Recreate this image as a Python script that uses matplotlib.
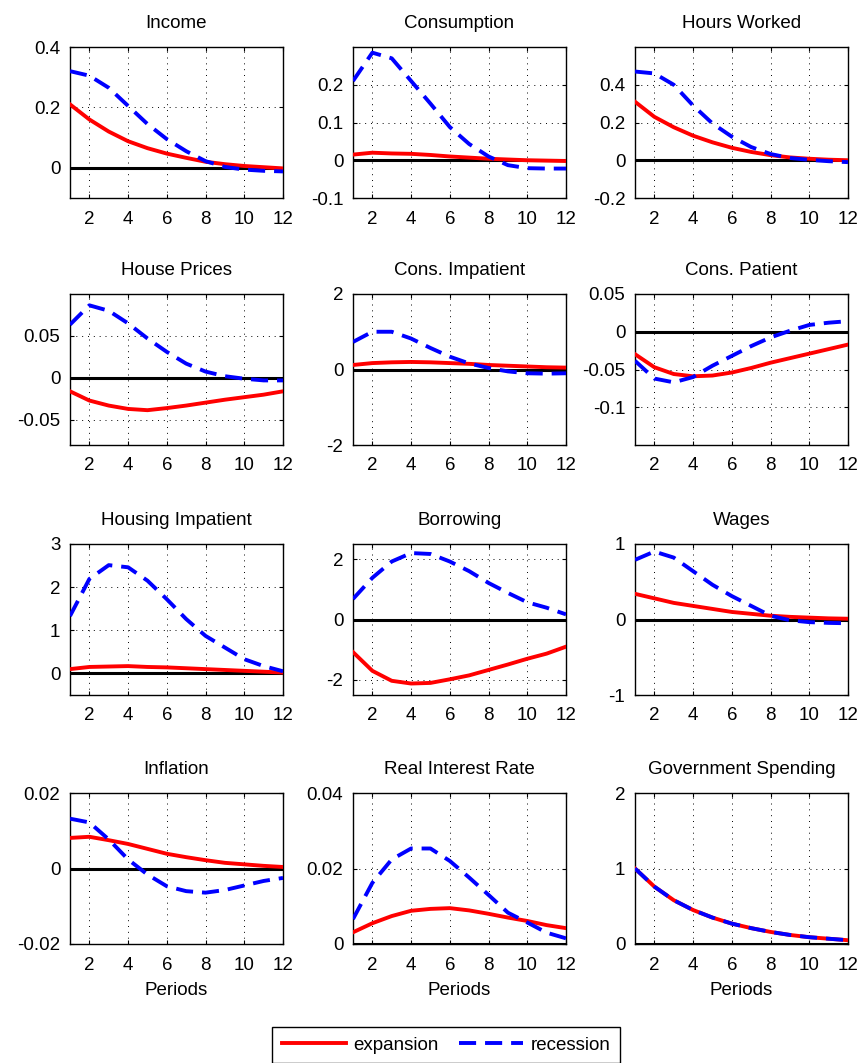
import matplotlib
matplotlib.use("Agg")
import matplotlib.pyplot as plt

plt.rcParams['font.family'] = ['Liberation Sans', 'DejaVu Sans']

periods = list(range(1, 13))

titles = ["Income", "Consumption", "Hours Worked",
          "House Prices", "Cons. Impatient", "Cons. Patient",
          "Housing Impatient", "Borrowing", "Wages",
          "Inflation", "Real Interest Rate", "Government Spending"]

# expansion / recession impulse responses
income_exp = [0.21, 0.16, 0.12, 0.088, 0.065, 0.047, 0.033, 0.02, 0.012, 0.006, 0.002, -0.002]
income_rec = [0.32, 0.305, 0.265, 0.205, 0.145, 0.095, 0.055, 0.022, 0.003, -0.006, -0.01, -0.012]
cons_exp = [0.015, 0.02, 0.018, 0.017, 0.014, 0.01, 0.007, 0.004, 0.002, 0.0, -0.001, -0.002]
cons_rec = [0.21, 0.285, 0.27, 0.21, 0.15, 0.088, 0.043, 0.01, -0.013, -0.021, -0.022, -0.022]
hours_exp = [0.31, 0.23, 0.175, 0.13, 0.095, 0.066, 0.044, 0.027, 0.015, 0.008, 0.003, 0.0]
hours_rec = [0.47, 0.46, 0.4, 0.29, 0.195, 0.125, 0.07, 0.033, 0.012, 0.002, -0.005, -0.01]
hp_exp = [-0.016, -0.027, -0.033, -0.037, -0.0385, -0.036, -0.033, -0.0295, -0.026, -0.023, -0.02, -0.016]
hp_rec = [0.0635, 0.0865, 0.08, 0.065, 0.047, 0.031, 0.017, 0.0075, 0.002, -0.001, -0.003, -0.003]
ci_exp = [0.12, 0.17, 0.19, 0.2, 0.19, 0.17, 0.15, 0.12, 0.1, 0.08, 0.06, 0.05]
ci_rec = [0.73, 1.0, 1.0, 0.82, 0.57, 0.34, 0.16, 0.04, -0.05, -0.1, -0.11, -0.1]
cp_exp = [-0.0297, -0.047, -0.056, -0.059, -0.058, -0.054, -0.048, -0.041, -0.035, -0.029, -0.023, -0.017]
cp_rec = [-0.0385, -0.062, -0.067, -0.06, -0.045, -0.032, -0.019, -0.0075, 0.0013, 0.009, 0.012, 0.014]
hi_exp = [0.1, 0.15, 0.16, 0.17, 0.15, 0.14, 0.12, 0.1, 0.08, 0.06, 0.04, 0.02]
hi_rec = [1.33, 2.19, 2.51, 2.46, 2.15, 1.72, 1.26, 0.87, 0.6, 0.33, 0.17, 0.05]
bor_exp = [-1.08, -1.7, -2.03, -2.12, -2.1, -1.98, -1.85, -1.67, -1.49, -1.3, -1.13, -0.9]
bor_rec = [0.68, 1.38, 1.92, 2.2, 2.17, 1.92, 1.6, 1.21, 0.88, 0.57, 0.39, 0.17]
wage_exp = [0.34, 0.28, 0.22, 0.18, 0.14, 0.1, 0.075, 0.05, 0.035, 0.025, 0.015, 0.01]
wage_rec = [0.79, 0.9, 0.82, 0.64, 0.46, 0.31, 0.18, 0.05, -0.01, -0.035, -0.045, -0.05]
infl_exp = [0.0081, 0.0084, 0.0075, 0.0065, 0.0052, 0.0039, 0.003, 0.0022, 0.0015, 0.0011, 0.0007, 0.0004]
infl_rec = [0.0132, 0.0122, 0.0077, 0.0024, -0.0016, -0.0047, -0.006, -0.0064, -0.0057, -0.0045, -0.0033, -0.0025]
rir_exp = [0.0031, 0.0055, 0.0074, 0.0088, 0.0093, 0.0095, 0.0089, 0.008, 0.007, 0.0061, 0.005, 0.0042]
rir_rec = [0.0066, 0.0162, 0.0224, 0.0253, 0.0253, 0.022, 0.0176, 0.013, 0.0083, 0.0057, 0.003, 0.0015]
gov_exp = [1.0, 0.76, 0.58, 0.45, 0.35, 0.27, 0.21, 0.16, 0.12, 0.09, 0.07, 0.05]
gov_rec = [1.0, 0.76, 0.58, 0.45, 0.35, 0.27, 0.21, 0.16, 0.12, 0.09, 0.07, 0.05]

expansion = [income_exp, cons_exp, hours_exp, hp_exp, ci_exp, cp_exp,
             hi_exp, bor_exp, wage_exp, infl_exp, rir_exp, gov_exp]
recession = [income_rec, cons_rec, hours_rec, hp_rec, ci_rec, cp_rec,
             hi_rec, bor_rec, wage_rec, infl_rec, rir_rec, gov_rec]

ylims = [(-0.1, 0.4), (-0.1, 0.3), (-0.2, 0.6),
         (-0.08, 0.1), (-2, 2), (-0.15, 0.05),
         (-0.5, 3), (-2.5, 2.5), (-1, 1),
         (-0.02, 0.02), (0, 0.04), (0, 2)]
yticks = [[0, 0.2, 0.4], [-0.1, 0, 0.1, 0.2], [-0.2, 0, 0.2, 0.4],
          [-0.05, 0, 0.05], [-2, 0, 2], [-0.1, -0.05, 0, 0.05],
          [0, 1, 2, 3], [-2, 0, 2], [-1, 0, 1],
          [-0.02, 0, 0.02], [0, 0.02, 0.04], [0, 1, 2]]
yticklabels = [["0", "0.2", "0.4"], ["-0.1", "0", "0.1", "0.2"], ["-0.2", "0", "0.2", "0.4"],
               ["-0.05", "0", "0.05"], ["-2", "0", "2"], ["-0.1", "-0.05", "0", "0.05"],
               ["0", "1", "2", "3"], ["-2", "0", "2"], ["-1", "0", "1"],
               ["-0.02", "0", "0.02"], ["0", "0.02", "0.04"], ["0", "1", "2"]]

W, H = 861, 1063
fs = 13.5
fig = plt.figure(figsize=(W / 100, H / 100), dpi=100)

col_left = [70, 353, 635]
row_top = [47, 294, 544, 793]
ax_w, ax_h = 213, 151

for i in range(12):
    r, c = divmod(i, 3)
    ax = fig.add_axes([col_left[c] / W, 1 - (row_top[r] + ax_h) / H, ax_w / W, ax_h / H])
    ax.axhline(0, color='black', lw=2.2, zorder=2)
    ax.plot(periods, expansion[i], color='red', lw=2.8, zorder=3, label='expansion')
    ax.plot(periods, recession[i], color='blue', lw=2.8, zorder=4,
            linestyle=(0, (4.4, 2.3)), label='recession')
    ax.set_xlim(1, 12)
    ax.set_ylim(*ylims[i])
    ax.set_xticks([2, 4, 6, 8, 10, 12])
    ax.set_yticks(yticks[i])
    ax.set_yticklabels(yticklabels[i])
    ax.grid(True, color='black', linestyle=(0, (1, 5)), lw=0.7)
    ax.tick_params(direction='in', length=3, labelsize=fs, top=True, right=True,
                   width=0.8)
    ax.tick_params(axis='x', pad=9)
    ax.tick_params(axis='y', pad=7)
    for s in ax.spines.values():
        s.set_linewidth(1.0)
    ax.set_title(titles[i], fontsize=fs, pad=14)
    if r == 3:
        ax.set_xlabel("Periods", fontsize=fs, labelpad=6)

handles, labels = ax.get_legend_handles_labels()
leg = fig.legend(handles, labels, loc='upper center', ncol=2,
                 bbox_to_anchor=(446 / W, 1 - 1027 / H), fontsize=fs,
                 frameon=True, fancybox=False, framealpha=1, edgecolor='black',
                 handlelength=3.4, handletextpad=0.4, columnspacing=1.1,
                 borderpad=0.5, borderaxespad=0)
leg.get_frame().set_linewidth(1.0)

fig.savefig("out.png", dpi=100)
